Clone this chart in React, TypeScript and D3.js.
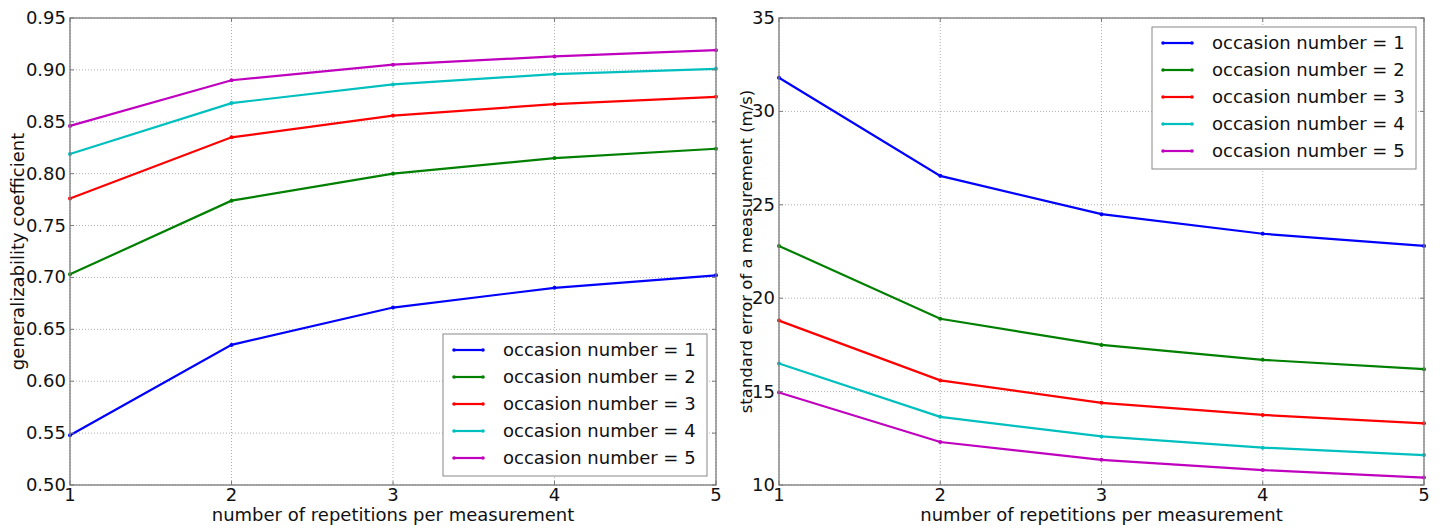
import React from 'react';
import * as d3 from 'd3';

const repetitions = [1, 2, 3, 4, 5];
const occasions = [1, 2, 3, 4, 5];
const colors = ['#0000ff', '#008000', '#ff0000', '#00bfbf', '#bf00bf'];

const gCoef = [
    [0.548, 0.635, 0.671, 0.690, 0.702],
    [0.703, 0.774, 0.800, 0.815, 0.824],
    [0.776, 0.835, 0.856, 0.867, 0.874],
    [0.819, 0.868, 0.886, 0.896, 0.901],
    [0.846, 0.890, 0.905, 0.913, 0.919],
];
const gTicks = [0.50, 0.55, 0.60, 0.65, 0.70, 0.75, 0.80, 0.85, 0.90, 0.95];

const stdErr = [
    [31.8, 26.55, 24.5, 23.45, 22.8],
    [22.8, 18.9, 17.5, 16.7, 16.2],
    [18.8, 15.6, 14.4, 13.75, 13.3],
    [16.5, 13.65, 12.6, 12.0, 11.6],
    [14.95, 12.3, 11.35, 10.8, 10.4],
];
const seTicks = [10, 15, 20, 25, 30, 35];

const FONT = 'DejaVu Sans, sans-serif';

type PanelProps = {
    left: number;
    right: number;
    data: number[][];
    yDomain: [number, number];
    yTicks: number[];
    yFormat: (v: number) => string;
    yLabel: string;
    yLabelX: number;
    yLabelSize: number;
    legend: { x: number; y: number; w: number };
};

const Panel = ({ left, right, data, yDomain, yTicks, yFormat, yLabel, yLabelX, yLabelSize, legend }: PanelProps) => {
    const top = 18;
    const bottom = 485;
    const x = d3.scaleLinear().domain([1, 5]).range([left, right]);
    const y = d3.scaleLinear().domain(yDomain).range([bottom, top]);
    const line = d3.line<number>()
        .x((_, i) => x(repetitions[i]))
        .y(d => y(d));
    const rowH = 27;

    return (
        <g>
            {/* grid */}
            {repetitions.map(r => (
                <line key={'gx' + r} x1={x(r)} x2={x(r)} y1={top} y2={bottom}
                    stroke="#b0b0b0" strokeWidth={1} strokeDasharray="1,2" />
            ))}
            {yTicks.map(t => (
                <line key={'gy' + t} x1={left} x2={right} y1={y(t)} y2={y(t)}
                    stroke="#b0b0b0" strokeWidth={1} strokeDasharray="1,2" />
            ))}

            {/* series */}
            {data.map((s, i) => (
                <g key={'s' + i}>
                    <path d={line(s) || ''} fill="none" stroke={colors[i]} strokeWidth={2.2} />
                    {s.map((v, j) => (
                        <circle key={j} cx={x(repetitions[j])} cy={y(v)} r={2} fill={colors[i]} />
                    ))}
                </g>
            ))}

            {/* frame */}
            <rect x={left} y={top} width={right - left} height={bottom - top}
                fill="none" stroke="#7a7a7a" strokeWidth={1.3} />

            {/* ticks */}
            {repetitions.map(r => (
                <g key={'tx' + r}>
                    <line x1={x(r)} x2={x(r)} y1={bottom} y2={bottom - 4} stroke="#7a7a7a" />
                    <line x1={x(r)} x2={x(r)} y1={top} y2={top + 4} stroke="#7a7a7a" />
                    <text x={x(r)} y={bottom + 16} textAnchor="middle" fontSize={18}
                        fontFamily={FONT} fill="#111">{r}</text>
                </g>
            ))}
            {yTicks.map(t => (
                <g key={'ty' + t}>
                    <line x1={left} x2={left + 4} y1={y(t)} y2={y(t)} stroke="#7a7a7a" />
                    <line x1={right} x2={right - 4} y1={y(t)} y2={y(t)} stroke="#7a7a7a" />
                    <text x={left - 4} y={y(t) + 6} textAnchor="end" fontSize={18}
                        fontFamily={FONT} fill="#111">{yFormat(t)}</text>
                </g>
            ))}

            {/* axis labels */}
            <text x={(left + right) / 2} y={521} textAnchor="middle" fontSize={18}
                fontFamily={FONT} fill="#111">number of repetitions per measurement</text>
            <text transform={`translate(${yLabelX},${(top + bottom) / 2}) rotate(-90)`}
                textAnchor="middle" fontSize={yLabelSize} fontFamily={FONT} fill="#111">{yLabel}</text>

            {/* legend */}
            <rect x={legend.x} y={legend.y} width={legend.w} height={rowH * 5 + 7}
                fill="#fff" stroke="#888" strokeWidth={1} />
            {occasions.map((o, i) => {
                const cy = legend.y + 16 + i * rowH;
                return (
                    <g key={'lg' + o}>
                        <line x1={legend.x + 11} x2={legend.x + 40} y1={cy} y2={cy}
                            stroke={colors[i]} strokeWidth={2.2} />
                        <circle cx={legend.x + 11} cy={cy} r={1.8} fill={colors[i]} />
                        <circle cx={legend.x + 40} cy={cy} r={1.8} fill={colors[i]} />
                        <text x={legend.x + 60} y={cy + 6} fontSize={18} fontFamily={FONT}
                            fill="#111">{`occasion number = ${o}`}</text>
                    </g>
                );
            })}
        </g>
    );
};

const App = () => {
    return (
        <svg width={1440} height={529} style={{ position: 'absolute', left: 0, top: 0, background: '#fff' }}>
            <Panel left={70} right={716} data={gCoef} yDomain={[0.5, 0.95]} yTicks={gTicks}
                yFormat={d3.format('.2f')} yLabel="generalizability coefficient" yLabelX={24} yLabelSize={18}
                legend={{ x: 443, y: 334, w: 264 }} />
            <Panel left={779} right={1424} data={stdErr} yDomain={[10, 35]} yTicks={seTicks}
                yFormat={d3.format('d')} yLabel="standard error of a measurement (m/s)" yLabelX={752}
                yLabelSize={16.5} legend={{ x: 1152, y: 27, w: 264 }} />
        </svg>
    );
};

export default App;
